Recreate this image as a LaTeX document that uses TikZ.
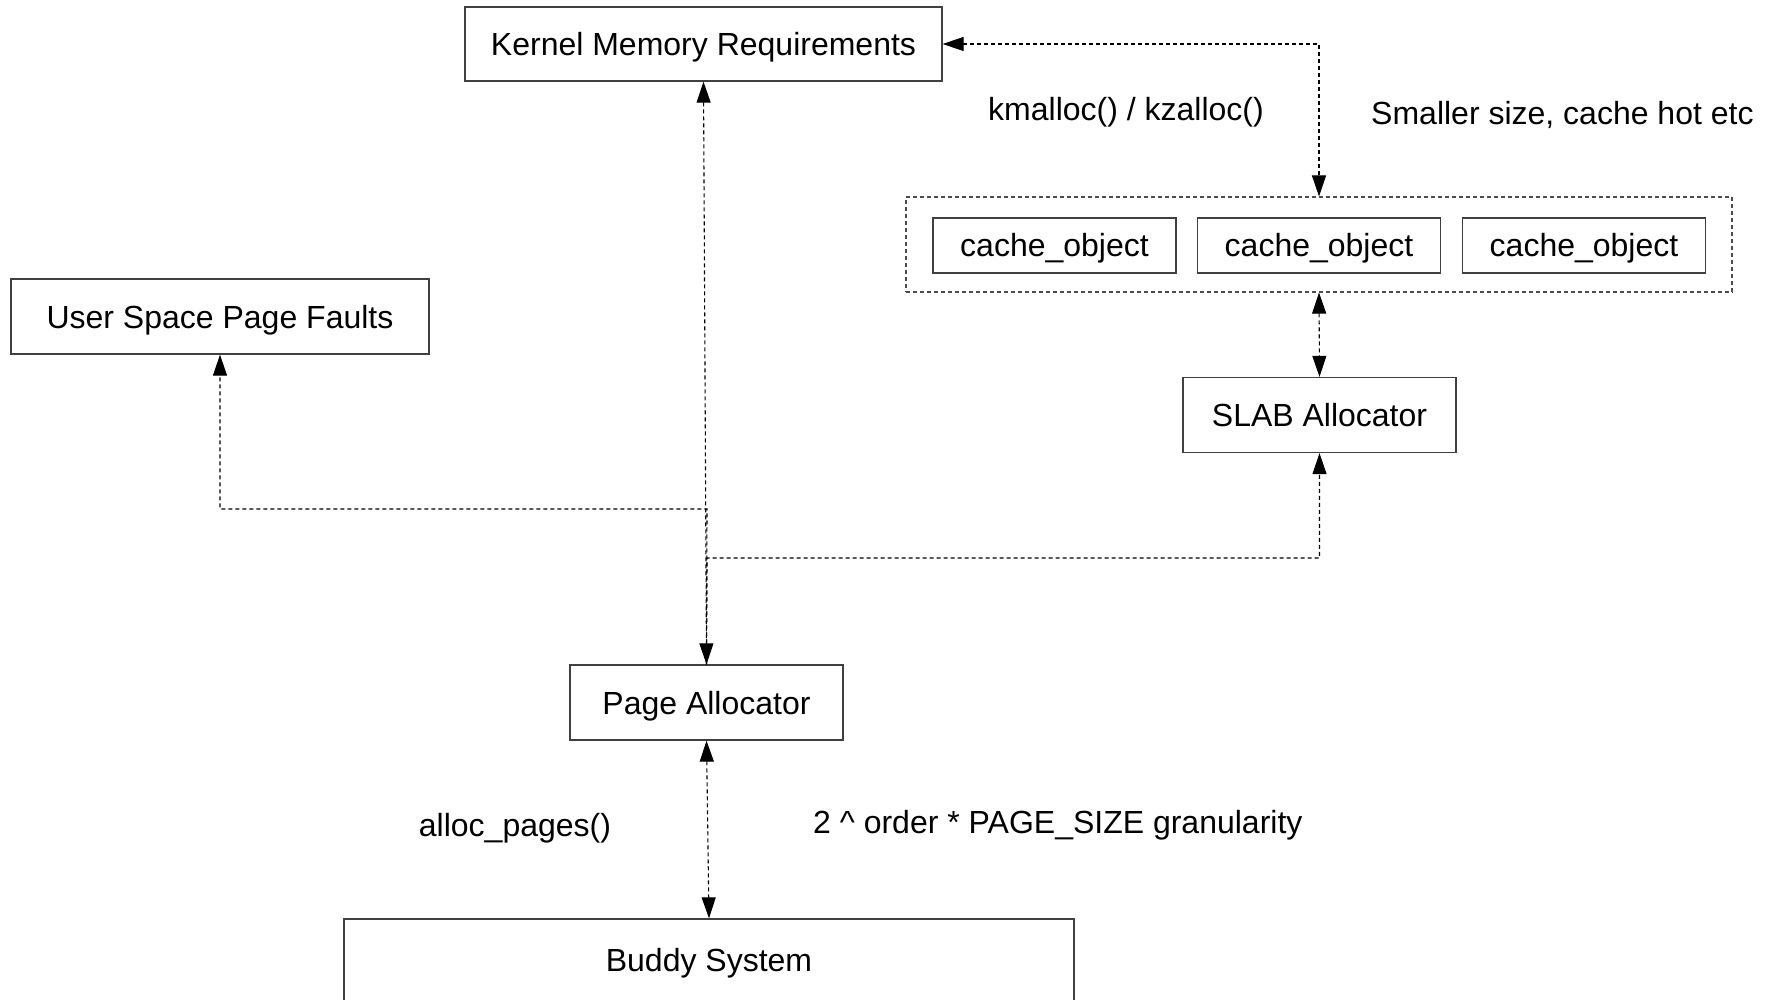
\documentclass[tikz,border=0pt]{standalone}
\usepackage{fontspec}
\setmainfont{Liberation Sans}
\usetikzlibrary{arrows.meta}
\tikzset{
  box/.style={draw=black!75, line width=1.3pt, fill=white, inner sep=0pt,
    text height=24pt, text depth=1pt,
    font=\fontsize{32}{38}\selectfont, text=black},
  label/.style={font=\fontsize{32}{38}\selectfont, inner sep=0pt, text=black},
  conn/.style={draw=black, line width=1.1pt, dash pattern=on 4pt off 3pt},
  fat/.tip={Triangle[length=21pt,width=14pt]},
  group/.style={draw=black!70, line width=1.1pt, dash pattern=on 4pt off 3pt, inner sep=0pt},
}
\begin{document}
\begin{tikzpicture}[x=1pt,y=-1pt]
\clip (0,0) rectangle (1774,1000);
\fill[white] (0,0) rectangle (1774,1000);

% boxes
\node[box, minimum width=477pt, minimum height=74pt] (kernel) at (703.5,44) {Kernel Memory Requirements};
\node[box, minimum width=418pt, minimum height=75pt] (user) at (220,316.5) {User Space Page Faults};
\node[group, minimum width=826pt, minimum height=95pt] (cache) at (1319,244.5) {};
\node[box, minimum width=243pt, minimum height=55pt] (co1) at (1054.5,245.5) {cache\_object};
\node[box, minimum width=243pt, minimum height=55pt] (co2) at (1319,245.5) {cache\_object};
\node[box, minimum width=243pt, minimum height=55pt] (co3) at (1584,245.5) {cache\_object};
\node[box, minimum width=273pt, minimum height=75pt] (slab) at (1319.5,415) {SLAB Allocator};
\node[box, minimum width=273pt, minimum height=75pt] (page) at (706.5,702.5) {Page Allocator};
\node[box, minimum width=730pt, minimum height=94pt] (buddy) at (709,966) {};
\node[label] (buddytext) at (709,963.5) {Buddy System};

% labels
\node[label] (kmalloc) at (1126,112.5) {kmalloc() / kzalloc()};
\node[label, anchor=west] (smaller) at (1371,114.5) {Smaller size, cache hot etc};
\node[label] (allocpages) at (515,828.5) {alloc\_pages()};
\node[label, anchor=west] (gran) at (813,825.5) {2 \^{} order * PAGE\_SIZE granularity};

% connectors
\coordinate (ujoin) at (707,509);
\coordinate (sjoin) at (707,558);
\draw[conn, -{fat}] (page.north) -- (ujoin) -| (user.south);
\draw[conn, -{fat}] (page.north) -- (sjoin) -| (slab.south);
\draw[conn, {fat}-{fat}] (kernel.south) -- (page.north);
\draw[conn, {fat}-{fat}] (kernel.east) -| (cache.north);
\draw[conn, {fat}-{fat}] (cache.south) -- (slab.north);
\draw[conn, {fat}-{fat}] (page.south) -- (buddy.north);
\end{tikzpicture}
\end{document}
